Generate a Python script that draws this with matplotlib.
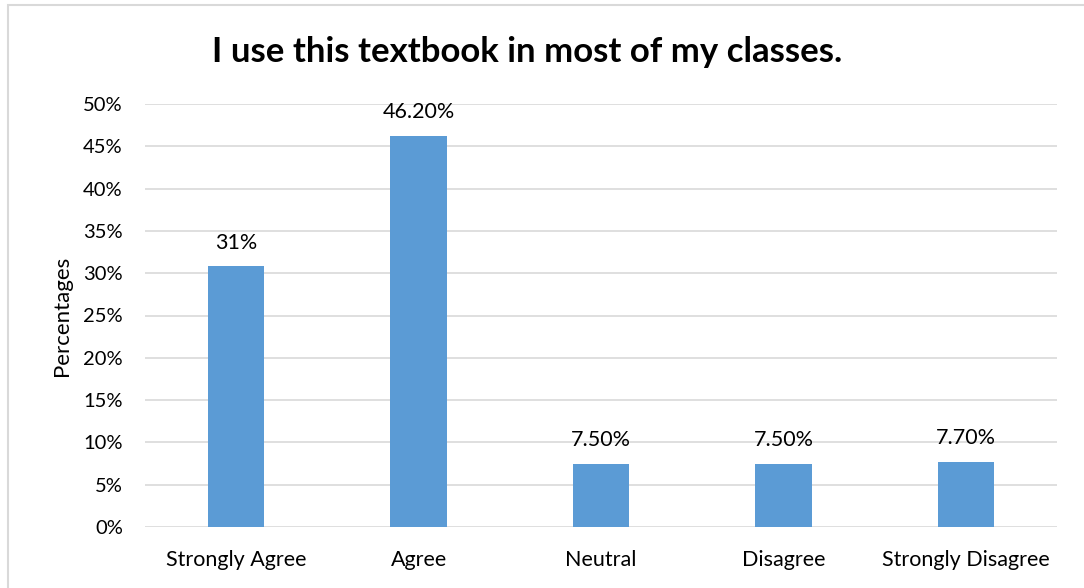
import matplotlib
matplotlib.use("Agg")
import matplotlib.pyplot as plt
from matplotlib.patches import Rectangle

categories = ["Strongly Agree", "Agree", "Neutral", "Disagree", "Strongly Disagree"]
values = [30.8, 46.2, 7.5, 7.5, 7.7]
labels = ["31%", "46.20%", "7.50%", "7.50%", "7.70%"]
yticks = [0, 5, 10, 15, 20, 25, 30, 35, 40, 45, 50]
title = "I use this textbook in most of my classes."
ylabel = "Percentages"

plt.rcParams['font.family'] = ['Lato', 'DejaVu Sans']

W, H = 1084, 588
fig = plt.figure(figsize=(W / 100, H / 100), dpi=100)
ax = fig.add_axes([145 / W, 1 - 527 / H, (1057 - 145) / W, (527 - 104) / H])

x = list(range(len(categories)))
ax.bar(x, values, width=0.31, color="#5B9BD5", zorder=3)
for xi, v, lab in zip(x, values, labels):
    ax.annotate(lab, (xi, v), xytext=(0, 10), textcoords="offset points",
                ha="center", va="bottom", fontsize=15.5, color="#000000")

ax.set_xlim(-0.5, len(categories) - 0.5)
ax.set_ylim(0, 50)
ax.set_yticks(yticks)
ax.set_yticklabels([f"{t}%" for t in yticks], fontsize=14.5)
ax.set_xticks(x)
ax.set_xticklabels(categories, fontsize=15.5)
ax.tick_params(axis="x", length=0, pad=16.5)
ax.tick_params(axis="y", length=0, pad=16)
ax.yaxis.grid(True, color="#D9D9D9", linewidth=1.2, zorder=0)
for s in ax.spines.values():
    s.set_visible(False)
ax.set_ylabel(ylabel, fontsize=16, labelpad=8)

fig.text(527 / W, 1 - 52 / H, title, ha="center", va="center",
         fontsize=25, fontweight="bold")

fig.patches.append(Rectangle((8 / W, -0.1), 1.2, 1 - 5 / H + 0.1,
                             transform=fig.transFigure, fill=False,
                             edgecolor="#D9D9D9", linewidth=1.5))

fig.savefig("out.png", dpi=100)
